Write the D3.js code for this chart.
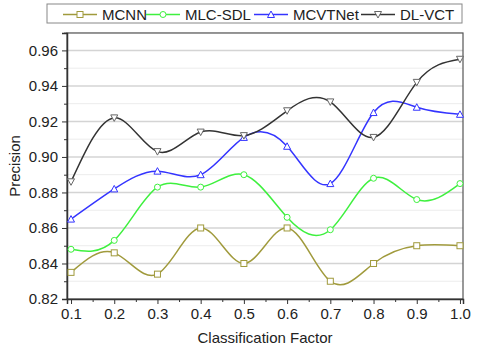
<!DOCTYPE html>
<html><head><meta charset="utf-8">
<script src="https://cdn.jsdelivr.net/npm/d3@7"></script>
<style>body{margin:0;background:#fff}svg{display:block;font-family:"Liberation Sans",Arial,sans-serif}</style>
</head><body>
<svg id="c" width="480" height="350"></svg>
<script>
const xValues = [0.1,0.2,0.3,0.4,0.5,0.6,0.7,0.8,0.9,1.0];
const mcnn   = [0.835,0.846,0.834,0.860,0.840,0.860,0.830,0.840,0.850,0.850];
const mlcsdl = [0.848,0.853,0.883,0.883,0.890,0.866,0.859,0.888,0.876,0.885];
const mcvtnet= [0.865,0.882,0.892,0.890,0.911,0.906,0.885,0.925,0.928,0.924];
const dlvct  = [0.886,0.922,0.903,0.914,0.912,0.926,0.931,0.911,0.942,0.955];
const seriesNames = ["MCNN","MLC-SDL","MCVTNet","DL-VCT"];
const yTicks = [0.82,0.84,0.86,0.88,0.90,0.92,0.94,0.96];
const xTicks = [0.1,0.2,0.3,0.4,0.5,0.6,0.7,0.8,0.9,1.0];

const series = [
  {name:seriesNames[0], values:mcnn,    color:"#a09a3c", marker:"square"},
  {name:seriesNames[1], values:mlcsdl,  color:"#3ef03e", marker:"circle"},
  {name:seriesNames[2], values:mcvtnet, color:"#3434ff", marker:"up"},
  {name:seriesNames[3], values:dlvct,   color:"#333333", marker:"down"}
];

const svg = d3.select("#c");
const L=67,R=463,T=33,B=299;
const x = d3.scaleLinear().domain([0.0907,1.007]).range([L,R]);
const y = d3.scaleLinear().domain([0.82,0.9698]).range([B,T]);

// grid minor
const minor = d3.range(0.83,0.97,0.02);
svg.append("g").selectAll("line").data(minor).join("line")
  .attr("x1",L).attr("x2",R).attr("y1",d=>y(d)).attr("y2",d=>y(d))
  .attr("stroke","#ececec").attr("stroke-width",1);
svg.append("g").selectAll("line").data(yTicks.slice(1)).join("line")
  .attr("x1",L).attr("x2",R).attr("y1",d=>y(d)).attr("y2",d=>y(d))
  .attr("stroke","#d4d4d4").attr("stroke-width",1.5);

// frame
svg.append("rect").attr("x",L).attr("y",T).attr("width",R-L).attr("height",B-T)
  .attr("fill","none").attr("stroke","#555").attr("stroke-width",1.2);

// axes
const yAxis = d3.axisLeft(y).tickValues(yTicks).tickFormat(d3.format(".2f")).tickSize(5).tickPadding(4);
const gy = svg.append("g").attr("transform",`translate(${L},0)`).call(yAxis);
gy.selectAll("text").attr("font-size",15).attr("fill","#222");
gy.selectAll("line").attr("stroke","#333");
gy.select(".domain").attr("stroke","#333").attr("stroke-width",1.5);
const gyMinor = svg.append("g").attr("transform",`translate(${L},0)`)
  .call(d3.axisLeft(y).tickValues(minor).tickSize(3).tickFormat(""));
gyMinor.select(".domain").remove();
gyMinor.selectAll("line").attr("stroke","#333");

const xAxis = d3.axisBottom(x).tickValues(xTicks).tickFormat(d3.format(".1f")).tickSize(5).tickPadding(4);
const gx = svg.append("g").attr("transform",`translate(0,${B})`).call(xAxis);
gx.selectAll("text").attr("font-size",15).attr("fill","#222");
gx.selectAll("line").attr("stroke","#333");
gx.select(".domain").attr("stroke","#333").attr("stroke-width",1.5);
const xMinor = d3.range(0.15,1.0,0.1);
const gxMinor = svg.append("g").attr("transform",`translate(0,${B})`)
  .call(d3.axisBottom(x).tickValues(xMinor).tickSize(3).tickFormat(""));
gxMinor.select(".domain").remove();
gxMinor.selectAll("line").attr("stroke","#333");

// labels
svg.append("text").attr("x",(L+R)/2).attr("y",343).attr("text-anchor","middle")
  .attr("font-size",15).attr("fill","#222").text("Classification Factor");
svg.append("text").attr("transform",`translate(20,${(T+B)/2}) rotate(-90)`).attr("text-anchor","middle")
  .attr("font-size",15).attr("fill","#222").text("Precision");

// lines
const line = d3.line().x(d=>x(d[0])).y(d=>y(d[1])).curve(d3.curveNatural);
function drawMarker(g, type, cx, cy, color){
  const s=3;
  if(type==="square") g.append("rect").attr("x",cx-s).attr("y",cy-s).attr("width",2*s).attr("height",2*s)
    .attr("fill","#fff").attr("stroke",color).attr("stroke-width",1);
  else if(type==="circle") g.append("circle").attr("cx",cx).attr("cy",cy).attr("r",s)
    .attr("fill","#fff").attr("stroke",color).attr("stroke-width",1);
  else if(type==="up") g.append("path").attr("d",`M${cx},${cy-s-0.5}L${cx+s+0.5},${cy+s}L${cx-s-0.5},${cy+s}Z`)
    .attr("fill","#fff").attr("stroke",color).attr("stroke-width",1);
  else g.append("path").attr("d",`M${cx-s-0.5},${cy-s}L${cx+s+0.5},${cy-s}L${cx},${cy+s+0.5}Z`)
    .attr("fill","#fff").attr("stroke",color==="#333333"?"#666":color).attr("stroke-width",1);
}
series.forEach(s=>{
  const pts = xValues.map((v,i)=>[v,s.values[i]]);
  svg.append("path").attr("d",line(pts)).attr("fill","none").attr("stroke",s.color).attr("stroke-width",1.5);
});
series.forEach(s=>{
  const g = svg.append("g");
  xValues.forEach((v,i)=>drawMarker(g,s.marker,x(v),y(s.values[i]),s.color));
});

// legend
svg.append("rect").attr("x",47).attr("y",4).attr("width",415).attr("height",19)
  .attr("fill","#fff").attr("stroke","#888").attr("stroke-width",1);
const legX = [63,146,254,361];
series.forEach((s,i)=>{
  const g = svg.append("g");
  const x0 = legX[i];
  g.append("line").attr("x1",x0).attr("x2",x0+34).attr("y1",14.5).attr("y2",14.5)
    .attr("stroke",s.color).attr("stroke-width",1.5);
  drawMarker(g,s.marker,x0+17,14.5,s.color);
  g.append("text").attr("x",x0+39).attr("y",19.5).attr("font-size",15).attr("fill","#222").text(s.name);
});
</script>
</body></html>
